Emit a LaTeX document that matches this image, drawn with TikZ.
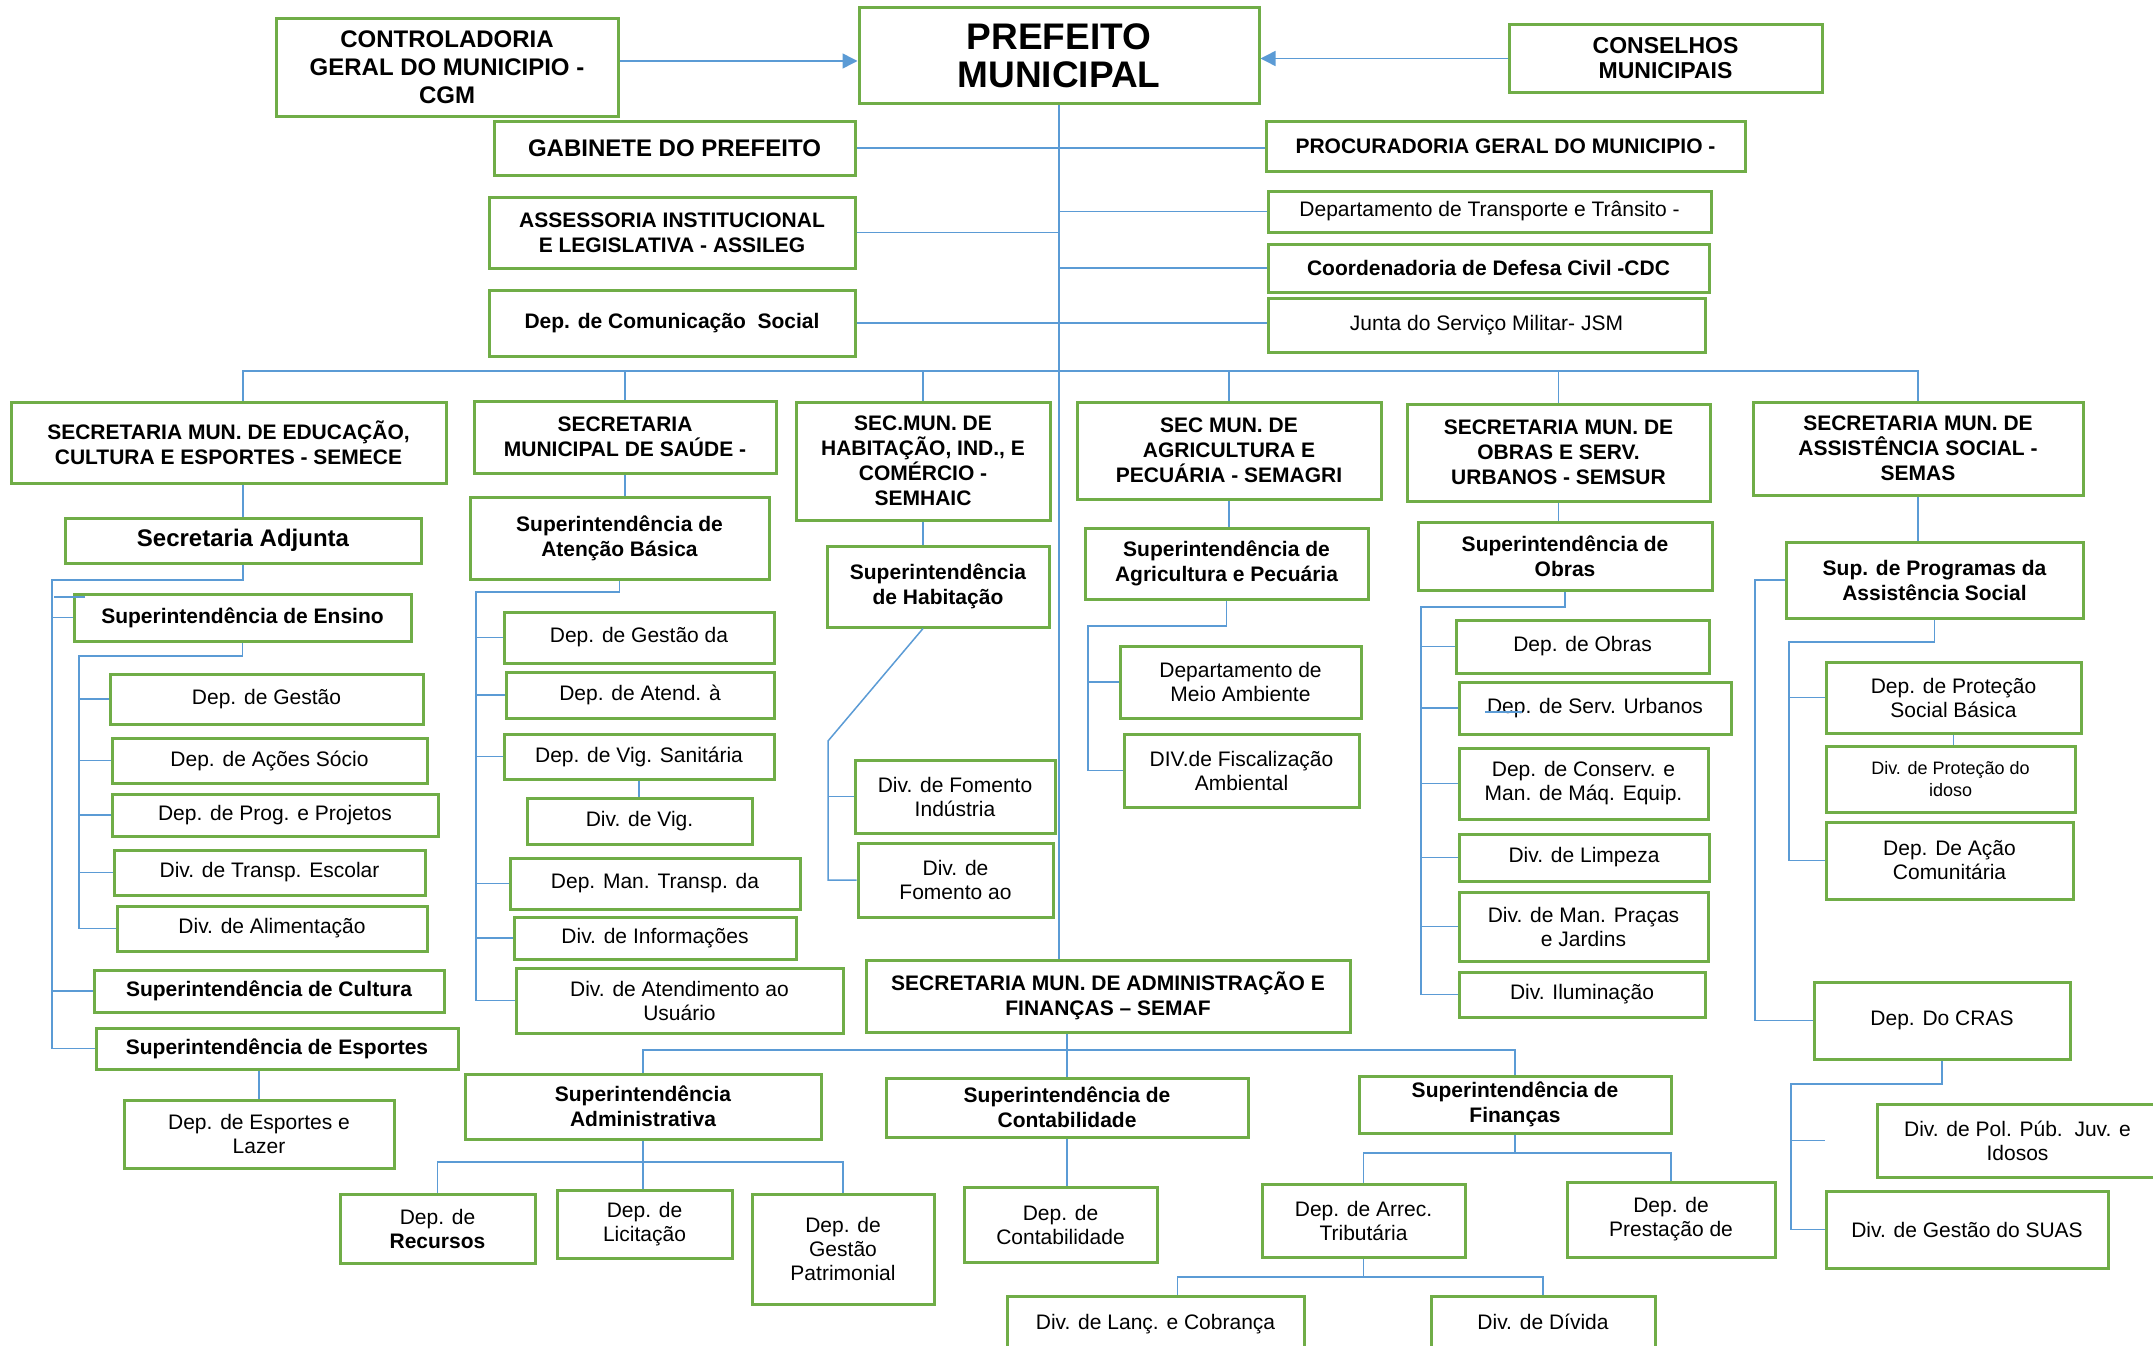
\documentclass[tikz,border=0pt]{standalone}
\usepackage{fontspec}
\setmainfont{Liberation Sans}
\usetikzlibrary{arrows.meta}
\definecolor{orggreen}{RGB}{112,173,71}
\definecolor{orgblue}{RGB}{91,155,213}
\newcommand\orgbox[7]{%
  \pgfmathsetmacro\obw{#4-#2}%
  \pgfmathsetmacro\obh{#5-#3}%
  \node[#6,minimum width=\obw pt,minimum height=\obh pt] (#1) at ({(#2+#4)/2},{(#3+#5)/2}) {#7};}
\begin{document}
\begin{tikzpicture}[x=1pt,y=-1pt,
  box/.style={draw=orggreen,line width=3pt,fill=white,align=center,inner sep=1pt,font=\fontsize{21}{24}\selectfont},
  hbox/.style={box,font=\fontsize{21}{25}\selectfont\bfseries},
  link/.style={draw=orgblue,line width=1.5pt},
  arrow/.style={link,-{Triangle[length=15pt,width=15pt]}}]
  \useasboundingbox (0,0) rectangle (2153,1346);
  \clip (0,0) rectangle (2153,1346);
  % top
  \orgbox{cgm}{276}{19}{618}{116}{hbox,font=\fontsize{24}{28}\selectfont\bfseries}{CONTROLADORIA\\GERAL DO MUNICIPIO -\\CGM}
  \orgbox{pref}{859}{8}{1259}{103}{hbox,font=\fontsize{37}{38}\selectfont\bfseries}{PREFEITO\\MUNICIPAL}
  \orgbox{cons}{1509}{25}{1822}{92}{hbox,font=\fontsize{23}{25}\selectfont\bfseries}{CONSELHOS\\MUNICIPAIS}
  \orgbox{gab}{494}{121}{855}{175}{hbox,font=\fontsize{24}{28}\selectfont\bfseries}{GABINETE DO PREFEITO}
  \orgbox{proc}{1266}{121}{1745}{171}{hbox}{PROCURADORIA GERAL DO MUNICIPIO -}
  \orgbox{assileg}{489}{197}{855}{268}{hbox}{ASSESSORIA INSTITUCIONAL\\E LEGISLATIVA - ASSILEG}
  \orgbox{comm}{489}{290}{855}{356}{hbox}{Dep. de Comunicação\ \ Social}
  \orgbox{trans}{1268}{191}{1711}{232}{box}{Departamento de Transporte e Trânsito -}
  \orgbox{cdc}{1268}{244}{1709}{292}{hbox}{Coordenadoria de Defesa Civil -CDC}
  \orgbox{junta}{1268}{298}{1705}{352}{box}{Junta do Serviço Militar- JSM}
  % secretarias
  \orgbox{semece}{11}{402}{446}{483}{hbox}{SECRETARIA MUN. DE EDUCAÇÃO,\\CULTURA E ESPORTES - SEMECE}
  \orgbox{saude}{474}{401}{776}{473}{hbox}{SECRETARIA\\MUNICIPAL DE SAÚDE -}
  \orgbox{semhaic}{796}{402}{1050}{520}{hbox}{SEC.MUN. DE\\HABITAÇÃO, IND., E\\COMÉRCIO -\\SEMHAIC}
  \orgbox{semagri}{1077}{402}{1381}{499}{hbox}{SEC MUN. DE\\AGRICULTURA E\\PECUÁRIA - SEMAGRI}
  \orgbox{semsur}{1407}{404}{1710}{501}{hbox}{SECRETARIA MUN. DE\\OBRAS E SERV.\\URBANOS - SEMSUR}
  \orgbox{semas}{1753}{402}{2083}{495}{hbox}{SECRETARIA MUN. DE\\ASSISTÊNCIA SOCIAL -\\SEMAS}
  % semece
  \orgbox{adj}{65}{518}{421}{563}{hbox,font=\fontsize{24}{28}\selectfont\bfseries}{Secretaria Adjunta}
  \orgbox{ens}{74}{594}{411}{641}{hbox}{Superintendência de Ensino}
  \orgbox{gest}{110}{674}{423}{724}{box}{Dep. de Gestão}
  \orgbox{acoes}{112}{738}{427}{783}{box}{Dep. de Ações Sócio}
  \orgbox{prog}{112}{794}{438}{836}{box}{Dep. de Prog. e Projetos}
  \orgbox{transp}{114}{850}{425}{895}{box}{Div. de Transp. Escolar}
  \orgbox{alim}{117}{906}{427}{951}{box}{Div. de Alimentação}
  \orgbox{cult}{94}{970}{444}{1012}{hbox}{Superintendência de Cultura}
  \orgbox{esp}{96}{1028}{458}{1069}{hbox}{Superintendência de Esportes}
  \orgbox{lazer}{124}{1100}{394}{1168}{box}{Dep. de Esportes e\\Lazer}
  % saude
  \orgbox{atb}{470}{497}{769}{579}{hbox}{Superintendência de\\Atenção Básica}
  \orgbox{gsaude}{504}{612}{774}{663}{box}{Dep. de Gestão da}
  \orgbox{atend}{506}{672}{774}{718}{box}{Dep. de Atend. à}
  \orgbox{vigsan}{504}{734}{774}{779}{box}{Dep. de Vig. Sanitária}
  \orgbox{divvig}{527}{798}{752}{844}{box}{Div. de Vig.}
  \orgbox{mantr}{510}{858}{800}{909}{box}{Dep. Man. Transp. da}
  \orgbox{inform}{514}{917}{796}{959}{box}{Div. de Informações}
  \orgbox{usu}{516}{968}{843}{1033}{box}{Div. de Atendimento ao\\Usuário}
  % semhaic
  \orgbox{hab}{827}{546}{1049}{627}{hbox}{Superintendência\\de Habitação}
  \orgbox{fomind}{855}{760}{1055}{833}{box}{Div. de Fomento\\Indústria}
  \orgbox{fomao}{858}{843}{1053}{917}{box}{Div. de\\Fomento ao}
  % semagri
  \orgbox{agr}{1085}{528}{1368}{599}{hbox}{Superintendência de\\Agricultura e Pecuária}
  \orgbox{meio}{1120}{646}{1361}{718}{box}{Departamento de\\Meio Ambiente}
  \orgbox{fisc}{1124}{734}{1359}{807}{box}{DIV.de Fiscalização\\Ambiental}
  % semsur
  \orgbox{obras}{1418}{522}{1712}{590}{hbox}{Superintendência de\\Obras}
  \orgbox{depobras}{1456}{620}{1709}{673}{box}{Dep. de Obras}
  \orgbox{servurb}{1459}{682}{1731}{734}{box}{Dep. de Serv. Urbanos}
  \orgbox{conserv}{1459}{748}{1708}{819}{box}{Dep. de Conserv. e\\Man. de Máq. Equip.}
  \orgbox{limp}{1459}{834}{1709}{881}{box}{Div. de Limpeza}
  \orgbox{pracas}{1459}{892}{1708}{961}{box}{Div. de Man. Praças\\e Jardins}
  \orgbox{ilum}{1459}{972}{1705}{1017}{box}{Div. Iluminação}
  % semas
  \orgbox{supprog}{1786}{542}{2083}{618}{hbox}{Sup. de Programas da\\Assistência Social}
  \orgbox{protsoc}{1826}{662}{2081}{733}{box}{Dep. de Proteção\\Social Básica}
  \orgbox{idoso}{1826}{746}{2075}{812}{box,font=\fontsize{18}{22}\selectfont}{Div. de Proteção do\\idoso}
  \orgbox{acao}{1826}{822}{2073}{899}{box}{Dep. De Ação\\Comunitária}
  \orgbox{cras}{1814}{982}{2070}{1059}{box}{Dep. Do CRAS}
  \orgbox{pol}{1877}{1104}{2158}{1177}{box}{Div. de Pol. Púb.\ \ Juv. e\\Idosos}
  \orgbox{suas}{1826}{1191}{2108}{1268}{box}{Div. de Gestão do SUAS}
  % semaf
  \orgbox{semaf}{866}{960}{1350}{1032}{hbox}{SECRETARIA MUN. DE ADMINISTRAÇÃO E\\FINANÇAS – SEMAF}
  \orgbox{supadm}{465}{1074}{821}{1139}{hbox}{Superintendência\\Administrativa}
  \orgbox{supcont}{886}{1078}{1248}{1137}{hbox}{Superintendência de\\Contabilidade}
  \orgbox{supfin}{1359}{1076}{1671}{1133}{hbox}{Superintendência de\\Finanças}
  \orgbox{rec}{340}{1194}{535}{1263}{box}{Dep. de\\\textbf{Recursos}}
  \orgbox{lic}{557}{1190}{732}{1258}{box}{Dep. de\\Licitação}
  \orgbox{pat}{752}{1194}{934}{1304}{box}{Dep. de\\Gestão\\Patrimonial}
  \orgbox{depcont}{964}{1187}{1157}{1262}{box}{Dep. de\\Contabilidade}
  \orgbox{arrec}{1262}{1184}{1465}{1257}{box}{Dep. de Arrec.\\Tributária}
  \orgbox{prest}{1567}{1182}{1775}{1257}{box}{Dep. de\\Prestação de}
  \orgbox{lanc}{1007}{1296}{1304}{1352}{box}{Div. de Lanç. e Cobrança}
  \orgbox{div}{1431}{1296}{1655}{1348}{box}{Div. de Dívida}
  % connectors
  \coordinate (cgmout) at ([yshift=6.5pt]cgm.east);
  \coordinate (secbus) at (0,371);
  \coordinate (semafbus) at (0,1050);
  \coordinate (admbus) at (0,1162);
  \coordinate (finbus) at (0,1153);
  \coordinate (arrbus) at (0,1277);
  \coordinate (semecerail) at (52,580);
  \coordinate (ensrail) at (79,656);
  \coordinate (saurail) at (476,592);
  \coordinate (habrail) at (828,741);
  \coordinate (agrrail) at (1088,626);
  \coordinate (obrasrail) at (1421,607);
  \coordinate (prograil) at (1755,0);
  \coordinate (protrail) at (1789,642);
  \coordinate (crasrail) at (1791,1084);
  \coordinate (lancin) at ([xshift=22pt]lanc.north);
  \draw[arrow] (cgmout) -- (cgmout -| pref.west);
  \draw[arrow] (cons.west) -- (cons.west -| pref.east);
  \draw[link] (gab.east) -- (gab.east -| proc.west);
  \draw[link] (assileg.east) -- (assileg.east -| pref.south);
  \draw[link] (trans.west) -- (trans.west -| pref.south);
  \draw[link] (cdc.west) -- (cdc.west -| pref.south);
  \draw[link] (comm.east) -- (comm.east -| junta.west);
  \draw[link] (pref.south) -- (pref.south |- semaf.north);
  \draw[link] (adj.north |- semece.north) -- (adj.north |- secbus) -- (semas.north |- secbus) -- (semas.north);
  \foreach \s in {saude,semhaic,semagri,semsur}
    \draw[link] (\s.north) -- (\s.north |- secbus);
  \draw[link] (adj.north |- semece.south) -- (adj.north);
  \draw[link] (adj.south) |- (semecerail) -- (semecerail |- esp.west) -- (esp.west);
  \foreach \n in {ens,cult}
    \draw[link] (semecerail |- \n.west) -- (\n.west);
  \draw[link] (54,597) -- (85,597);
  \draw[link] (ens.south) |- (ensrail) -- (ensrail |- alim.west) -- (alim.west);
  \foreach \n in {gest,acoes,prog,transp}
    \draw[link] (ensrail |- \n.west) -- (\n.west);
  \draw[link] (lazer.north |- esp.south) -- (lazer.north);
  \draw[link] (saude.south) -- (saude.south |- atb.north);
  \draw[link] (atb.south) |- (saurail) -- (saurail |- usu.west) -- (usu.west);
  \foreach \n in {gsaude,atend,vigsan,mantr,inform}
    \draw[link] (saurail |- \n.west) -- (\n.west);
  \draw[link] (vigsan.south) -- (vigsan.south |- divvig.north);
  \draw[link] (semhaic.south) -- (semhaic.south |- hab.north);
  \draw[link] (semhaic.south |- hab.south) -- (habrail) -- (habrail |- fomao.west) -- (fomao.west);
  \draw[link] (habrail |- fomind.west) -- (fomind.west);
  \draw[link] (semagri.south) -- (semagri.south |- agr.north);
  \draw[link] (agr.south) |- (agrrail) -- (agrrail |- fisc.west) -- (fisc.west);
  \draw[link] (agrrail |- meio.west) -- (meio.west);
  \draw[link] (semsur.south) -- (semsur.south |- obras.north);
  \draw[link] (obras.south) |- (obrasrail) -- (obrasrail |- ilum.west) -- (ilum.west);
  \foreach \n in {depobras,servurb,conserv,limp,pracas}
    \draw[link] (obrasrail |- \n.west) -- (\n.west);
  \draw[link] (1485,712) -- (1522,712);
  \draw[link] (semas.south) -- (semas.south |- supprog.north);
  \draw[link] (supprog.west) -- (prograil |- supprog.west) -- (prograil |- cras.west) -- (cras.west);
  \draw[link] (supprog.south) |- (protrail) -- (protrail |- acao.west) -- (acao.west);
  \draw[link] (protrail |- protsoc.west) -- (protsoc.west);
  \draw[link] (protsoc.south) -- (protsoc.south |- idoso.north);
  \draw[link] (cras.south) |- (crasrail) -- (crasrail |- suas.west) -- (suas.west);
  \draw[link] (crasrail |- pol.west) -- ++(34,0);
  \draw[link] (supcont.north |- semaf.south) -- (supcont.north);
  \draw[link] (supadm.north) -- (supadm.north |- semafbus) -- (supfin.north |- semafbus) -- (supfin.north);
  \draw[link] (supadm.south) -- (supadm.south |- lic.north);
  \draw[link] (rec.north) -- (rec.north |- admbus) -- (pat.north |- admbus) -- (pat.north);
  \draw[link] (supcont.south) -- (supcont.south |- depcont.north);
  \draw[link] (supfin.south) -- (supfin.south |- finbus);
  \draw[link] (arrec.north) -- (arrec.north |- finbus) -- (prest.north |- finbus) -- (prest.north);
  \draw[link] (arrec.south) -- (arrec.south |- arrbus);
  \draw[link] (lancin) -- (lancin |- arrbus) -- (div.north |- arrbus) -- (div.north);
\end{tikzpicture}
\end{document}
